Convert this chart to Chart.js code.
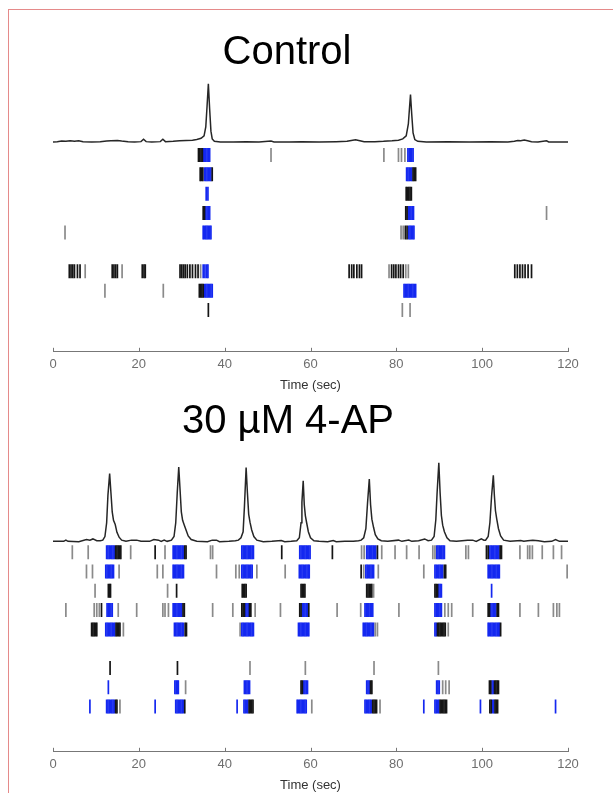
<!DOCTYPE html>
<html lang="en">
<head>
<meta charset="UTF-8">
<title>Control vs 30 µM 4-AP</title>
<script src="https://cdn.jsdelivr.net/npm/chart.js"></script>
<style>
  body {
    margin: 0;
    width: 613px;
    height: 793px;
    background: #fff;
    overflow: hidden;
    position: relative;
    font-family: "Liberation Sans", Arial, sans-serif;
  }
  .frame {
    position: absolute;
    left: 8px;
    top: 9px;
    width: 640px;
    height: 820px;
    border: 1px solid #e58a8a;
  }
  .panel {
    position: absolute;
    left: 0;
    width: 613px;
    height: 396px;
  }
  h2 {
    position: absolute;
    left: 0;
    margin: 0;
    text-align: center;
    font-weight: normal;
    font-size: 40px;
    line-height: 40px;
    color: #000;
    z-index: 2;
  }
</style>
</head>
<body>
  <div class="frame"></div>
  <h2 style="top:30px; width:574px;">Control</h2>
  <div class="panel" style="top:0;"><canvas id="ctrlChart"></canvas></div>
  <h2 style="top:399px; width:576px;">30 µM 4-AP</h2>
  <div class="panel" style="top:400px;"><canvas id="apChart"></canvas></div>

<script>
// x axis
const xTicks = [0, 20, 40, 60, 80, 100, 120];

// Control: population trace [time s, amplitude]
const ctrlTrace = [
  [0,0],[1,0.005],[2,0.015],[3,0.01],[4,0.02],[5,0.01],[6,0.02],[7,0.005],[9,0],[11,0.005],
  [12.5,0.015],[13.5,0.02],[15,0.025],[16,0.015],[17.5,0.005],[19,0],[20.5,0.005],[21.1,0.045],
  [21.7,0.005],[23,0],[25,0.005],[25.6,0.045],[26.2,0.005],[28,0.01],[29.5,0.02],[31,0.025],
  [32.5,0.03],[33.5,0.04],[34.5,0.06],[35.2,0.1],[35.6,0.25],[35.9,0.6],[36.2,0.97],[36.5,0.55],
  [36.8,0.18],[37.1,0.05],[37.6,0.01],[39,0],[42,0],[45,0.005],[48,0],[50.8,0.015],[51.5,0],
  [55,0],[58,0.005],[62,0],[66,0.005],[68.5,0.01],[69.5,0.025],[70.5,0.035],[71.5,0.02],
  [72.5,0.005],[75,0.005],[77,0.01],[79,0.02],[80.5,0.03],[81.5,0.05],[82.3,0.1],[82.8,0.3],
  [83.1,0.6],[83.3,0.79],[83.6,0.45],[83.9,0.15],[84.3,0.04],[85,0.01],[87,0],[92,0.005],
  [97,0],[102,0.005],[106,0],[107.5,0.01],[108.3,0.025],[109,0.02],[109.8,0.03],[110.6,0.02],
  [111.5,0.005],[113,0],[115,0.02],[115.5,0],[120,0]
];

// Control: spike times (s) per cell row, rows 1..9 top to bottom
const ctrlGray = [
  [50.8,77.1,80.5,81.2,82.0],
  [],
  [],
  [115.0],
  [2.8,81.1,81.6],
  [],
  [7.5,16.1,34.4,78.3,82.2,82.8],
  [12.1,25.7],
  [81.4,83.2]
];
const ctrlBlack = [
  [33.9,34.2,34.5,34.8],
  [34.3,34.6,34.9,37.1,83.9,84.2,84.5],
  [82.3,82.6,82.9,83.2,83.5],
  [35.0,35.3,82.2,82.5],
  [82.1,82.5],
  [],
  [3.8,4.2,4.6,5.0,5.7,6.3,13.8,14.2,14.6,15.0,20.8,21.2,21.5,29.6,30.0,30.4,30.8,31.3,31.9,
   32.5,33.2,33.8,69.0,69.6,70.1,70.8,71.4,71.9,78.9,79.4,79.9,80.5,81.0,81.6,
   107.6,108.2,108.8,109.4,110.0,110.7,111.5],
  [34.1,34.4,34.7,35.0],
  [36.2]
];
const ctrlBlue = [
  [35.0,35.3,35.6,35.9,36.2,36.5,82.7,83.0,83.3,83.6,83.9],
  [35.3,35.6,35.9,36.2,36.5,36.8,82.4,82.7,83.0,83.3,83.6],
  [35.7,36.1],
  [35.6,35.9,36.2,36.5,82.8,83.1,83.4,83.7,84.0],
  [35.0,35.3,35.6,35.9,36.2,36.5,36.8,82.9,83.2,83.5,83.8,84.1],
  [],
  [35.0,35.4,35.8,36.1],
  [35.3,35.6,35.9,36.2,36.5,36.8,37.1,81.8,82.1,82.4,82.7,83.0,83.3,83.6,83.9,84.2,84.5],
  []
];

// 30 uM 4-AP: population trace
const apTrace = [
  [0,0.01],[2.5,0.01],[3.0,0.03],[3.5,0.01],[6,0.005],[7.8,0.04],[8.6,0.03],[9.3,0.05],[10.2,0.02],
  [11,0.02],[11.6,0.03],[12.1,0.09],[12.5,0.32],[12.8,0.78],[13.2,1.14],[13.5,0.82],[13.8,0.5],
  [14.1,0.36],[14.5,0.29],[14.9,0.16],[15.4,0.08],[16,0.03],[17,0.01],[18.3,0.03],[19.5,0.03],
  [20.5,0.01],[22.5,0.01],[23.5,0.04],[24.6,0.03],[25.2,0.01],[25.9,0.03],[26.6,0.01],
  [27.6,0.03],[28.2,0.09],[28.6,0.32],[28.95,0.82],[29.3,1.25],[29.6,0.88],[29.9,0.5],[30.2,0.36],
  [30.6,0.28],[31.0,0.2],[31.5,0.1],[32.2,0.04],[33.5,0.01],[36,0.005],[37.1,0.03],[38.1,0.03],
  [38.8,0.005],[41,0.01],[42.5,0.02],[43.2,0.03],[43.8,0.07],[44.3,0.17],[44.6,0.58],[45.0,1.24],
  [45.3,0.82],[45.6,0.46],[45.9,0.33],[46.3,0.2],[46.8,0.09],[47.5,0.03],[49,0.005],[51,0.01],
  [53.2,0.025],[54,0.005],[55.5,0.01],[56.8,0.02],[57.4,0.07],[57.8,0.32],[58.0,0.66],[58.3,1.02],
  [58.55,0.62],[58.8,0.44],[59.1,0.32],[59.5,0.17],[60,0.07],[60.8,0.02],[62,0.01],[64,0.005],
  [65.3,0.025],[66,0.005],[68,0.01],[70,0.01],[71.2,0.02],[71.8,0.03],[72.4,0.07],[72.9,0.22],
  [73.3,0.66],[73.7,1.05],[74.0,0.62],[74.3,0.38],[74.7,0.24],[75.1,0.12],[75.7,0.05],[76.5,0.02],
  [78,0.01],[80.5,0.03],[81.3,0.01],[82.9,0.03],[83.6,0.01],[85.2,0.02],[86.6,0.05],[87.4,0.02],
  [88.2,0.03],[88.8,0.09],[89.2,0.37],[89.5,0.82],[89.9,1.32],[90.2,0.82],[90.5,0.44],[90.8,0.28],
  [91.2,0.17],[91.8,0.07],[92.5,0.02],[94,0.01],[96.6,0.03],[97.8,0.03],[98.6,0.01],[99.8,0.05],
  [100.4,0.03],[100.8,0.03],[101.4,0.09],[101.8,0.32],[102.2,0.77],[102.6,1.11],[102.85,0.77],
  [103.1,0.52],[103.4,0.38],[103.8,0.22],[104.3,0.1],[105,0.03],[106.5,0.01],[109,0.025],
  [109.7,0.01],[110.6,0.02],[111.8,0.03],[113.1,0.02],[114.5,0.005],[116.2,0.01],[117.1,0.04],
  [118,0.01],[120,0.01]
];

// 30 uM 4-AP: spike times per cell row
const apGray = [
  [4.5,8.2,18.1,26.1,36.7,37.2,71.9,72.5,76.6,79.7,82.4,85.3,88.5,89.0,96.2,96.8,108.8,110.6,
   111.1,111.7,114.0,116.6,118.5],
  [7.8,9.2,15.4,24.3,25.6,38.1,42.6,43.4,47.5,54.1,72.4,75.8,86.4,119.8],
  [9.8,26.7,74.7],
  [3.0,9.6,10.2,10.8,15.2,19.5,25.6,26.1,26.9,37.2,41.9,47.1,53.0,66.2,71.7,80.6,91.3,92.1,92.9,
   97.8,108.8,113.1,116.6,117.4,118.0],
  [16.4,43.6,75.1,75.6,92.1],
  [],
  [45.9,58.8,74.8,89.8],
  [30.9,90.8,91.5,92.3],
  [15.6,60.3,76.2]
];
const apBlack = [
  [14.6,14.9,15.2,15.5,15.8,23.8,30.7,31.0,53.3,65.1,75.6,101.0,101.4,104.2,104.5],
  [71.8,91.2,91.5],
  [12.9,13.2,13.4,28.8,44.1,44.4,44.7,45.0,57.8,58.1,58.4,58.7,73.1,73.4,73.7,74.0,74.3,
   89.0,89.3,89.6],
  [11.3,30.3,30.6,44.0,44.3,44.6,45.8,46.1,57.5,57.8,59.6,101.4,101.7,103.5,103.8],
  [9.0,9.3,9.6,9.9,10.2,14.7,15.0,15.3,15.6,30.8,31.1,89.6,89.9,90.2,90.5,90.8,91.1,91.4,104.3],
  [],
  [13.3,29.0],
  [57.8,58.1,74.0,74.3,101.7,102.0,102.9,103.2,103.5,103.8],
  [14.6,14.9,30.7,45.7,46.0,46.3,46.6,74.5,74.8,75.1,75.4,90.2,90.5,90.8,91.1,91.4,91.7,
   101.8,102.1,103.0,103.3,103.6]
];
const apBlue = [
  [12.5,12.8,13.1,13.4,13.7,14.0,14.3,28.0,28.3,28.6,28.9,29.2,29.5,29.8,30.1,30.4,
   44.0,44.3,44.6,44.9,45.2,45.5,45.8,46.1,46.4,46.7,57.5,57.8,58.1,58.4,58.7,59.0,59.3,59.6,59.9,
   73.1,73.4,73.7,74.0,74.3,74.6,74.9,75.2,89.4,89.7,90.0,90.3,90.6,90.9,91.2,
   101.8,102.1,102.4,102.7,103.0,103.3,103.6,103.9],
  [12.3,12.6,12.9,13.2,13.5,13.8,14.1,28.0,28.3,28.6,28.9,29.2,29.5,29.8,30.1,30.4,
   44.0,44.3,44.6,44.9,45.2,45.5,45.8,46.1,46.4,57.4,57.7,58.0,58.3,58.6,58.9,59.2,59.5,59.7,
   72.9,73.2,73.5,73.8,74.1,74.4,74.7,89.0,89.3,89.6,89.9,90.2,90.5,90.8,
   101.4,101.7,102.0,102.3,102.6,102.9,103.2,103.5,103.8,104.0],
  [89.9,90.2,90.5,102.2],
  [12.6,12.9,13.2,13.5,13.8,28.0,28.3,28.6,28.9,29.2,29.5,29.8,30.0,44.9,45.2,45.5,
   58.1,58.4,58.7,59.0,59.3,72.7,73.0,73.3,73.6,73.9,74.2,74.5,89.0,89.3,89.6,89.9,90.2,90.5,
   102.0,102.3,102.6,102.9,103.2],
  [12.3,12.6,12.9,13.2,13.5,13.8,14.1,14.4,28.3,28.6,28.9,29.2,29.5,29.8,30.1,30.4,
   44.0,44.3,44.6,44.9,45.2,45.5,45.8,46.1,46.4,46.7,57.2,57.5,57.8,58.1,58.4,58.7,59.0,59.3,59.6,
   72.3,72.6,72.9,73.2,73.5,73.8,74.1,74.4,74.7,89.0,89.3,
   101.4,101.7,102.0,102.3,102.6,102.9,103.2,103.5,103.8,104.0],
  [],
  [],
  [12.9,28.4,28.7,29.0,29.2,44.6,44.9,45.2,45.5,45.8,58.4,58.7,59.0,59.3,73.1,73.4,73.7,
   89.4,89.7,90.0,102.3,102.6],
  [8.6,12.5,12.8,13.1,13.4,13.7,14.0,14.3,23.8,28.6,28.9,29.2,29.5,29.8,30.1,30.4,42.9,
   44.5,44.8,45.1,45.4,56.9,57.2,57.5,57.8,58.1,58.4,58.7,59.0,72.7,73.0,73.3,73.6,73.9,74.2,
   86.4,89.0,89.3,89.6,89.9,99.6,102.4,102.7,117.1]
];

// matlab-like ticks pointing up into the plot
const inwardTicks = {
  id: 'inwardTicks',
  afterDraw(chart) {
    const x = chart.scales.x;
    const ctx = chart.ctx;
    const bottom = chart.chartArea.bottom;
    ctx.save();
    ctx.strokeStyle = '#777';
    ctx.lineWidth = 1;
    x.ticks.forEach(tk => {
      const px = Math.round(x.getPixelForValue(tk.value)) + 0.5;
      ctx.beginPath();
      ctx.moveTo(px, bottom);
      ctx.lineTo(px, bottom - 4);
      ctx.stroke();
    });
    ctx.restore();
  }
};

function spikes(rows) {
  return rows.flatMap((times, r) => times.map(t => ({ x: t, y: r + 1 })));
}

function spikeSet(rows, color, width) {
  return {
    data: spikes(rows),
    yAxisID: 'yRaster',
    pointStyle: 'line',
    pointRotation: 90,
    pointRadius: 7,
    pointBorderWidth: width,
    pointBorderColor: color,
    borderColor: color,
    showLine: false
  };
}

function makePanel(id, trace, gray, black, blue, rowMin, rowMax) {
  new Chart(document.getElementById(id), {
    type: 'scatter',
    data: {
      datasets: [
        {
          data: trace.map(([t, v]) => ({ x: t, y: v })),
          yAxisID: 'yTrace',
          showLine: true,
          borderColor: '#262626',
          borderWidth: 1.5,
          pointRadius: 0,
          tension: 0
        },
        spikeSet(gray, '#8a8a8a', 1.7),
        spikeSet(black, '#151515', 1.7),
        spikeSet(blue, '#1428f0', 1.7)
      ]
    },
    options: {
      responsive: true,
      maintainAspectRatio: false,
      animation: false,
      events: [],
      layout: { padding: { left: 53, right: 45, top: 40, bottom: 1 } },
      plugins: { legend: { display: false }, tooltip: { enabled: false } },
      scales: {
        x: {
          type: 'linear',
          position: 'bottom',
          min: 0,
          max: 120,
          afterBuildTicks: s => { s.ticks = xTicks.map(v => ({ value: v })); },
          ticks: { color: '#6e6e6e', padding: 5, font: { family: 'Liberation Sans', size: 13 } },
          grid: { display: false, drawTicks: false },
          border: { display: true, color: '#777', width: 1 },
          title: {
            display: true,
            text: 'Time (sec)',
            color: '#333',
            padding: { top: 0, bottom: 2 },
            font: { family: 'Liberation Sans', size: 13 }
          }
        },
        yTrace: { type: 'linear', display: false, min: -3.5, max: 1.7 },
        yRaster: { type: 'linear', display: false, reverse: true, min: rowMin, max: rowMax }
      }
    },
    plugins: [inwardTicks]
  });
}

makePanel('ctrlChart', ctrlTrace, ctrlGray, ctrlBlack, ctrlBlue, -4.928, 11.155);
makePanel('apChart', apTrace, apGray, apBlack, apBlue, -4.819, 11.347);
</script>
</body>
</html>
